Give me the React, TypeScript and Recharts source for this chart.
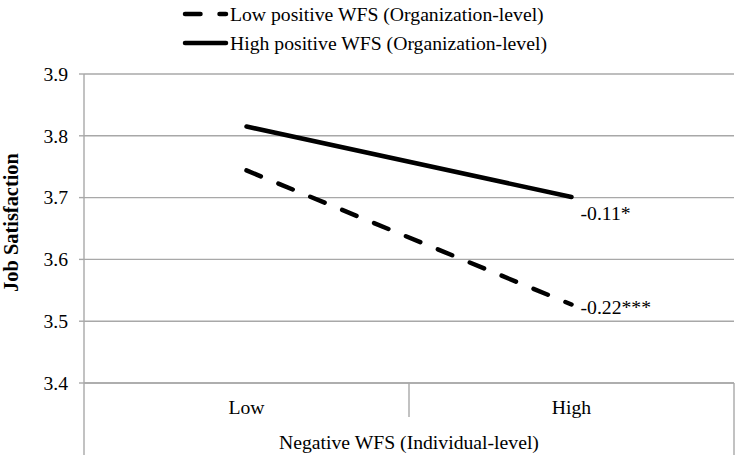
import React from "react";
import {
  LineChart,
  Line,
  XAxis,
  YAxis,
  CartesianGrid,
  Legend,
  LabelList,
  Label,
} from "recharts";

// values
const categories = ["Low", "High"];
const lowPositive = [3.744, 3.527];
const highPositive = [3.815, 3.701];
const seriesNames = [
  "Low positive WFS (Organization-level)",
  "High positive WFS (Organization-level)",
];
const slopeNotes = ["-0.22***", "-0.11*"];
const yTicks = [3.4, 3.5, 3.6, 3.7, 3.8, 3.9];
const xTitle = "Negative WFS (Individual-level)";
const yTitle = "Job Satisfaction";

const data = categories.map((cat, i) => ({
  cat,
  low: lowPositive[i],
  high: highPositive[i],
  lowNote: i === categories.length - 1 ? slopeNotes[0] : "",
  highNote: i === categories.length - 1 ? slopeNotes[1] : "",
}));

const W = 737;
const H = 455;
const LEFT = 84;
const RIGHT = 3;
const PLOT_W = W - LEFT - RIGHT;
const FONT = "Liberation Serif, Times New Roman, serif";
const FS = 19.7;
const GRID = "#a8a8a8";
const DASH = "15.5 19";

const textStyle = { fontFamily: FONT, fontSize: FS };

const CategoryTick = (props: any) => {
  const { x, y, payload, index } = props;
  const half = PLOT_W / categories.length / 2;
  const last = index === categories.length - 1;
  return (
    <g>
      <text x={x} y={y + 24} dy="0.35em" textAnchor="middle" fill="#000" style={textStyle}>
        {payload.value}
      </text>
      <line
        x1={x - half}
        x2={x - half}
        y1={y}
        y2={index === 0 ? H : y + 34}
        stroke={GRID}
        strokeWidth={1.4}
      />
      {last && (
        <line x1={x + half} x2={x + half} y1={y} y2={H} stroke={GRID} strokeWidth={1.4} />
      )}
    </g>
  );
};

const ValueTick = (props: any) => {
  const { x, y, payload } = props;
  return (
    <text x={x} y={y} dy="0.35em" textAnchor="end" fill="#000" style={textStyle}>
      {Number(payload.value).toFixed(1)}
    </text>
  );
};

const XTitle = (props: any) => {
  const { x, y, width } = props.viewBox;
  return (
    <text x={x + width / 2} y={y + 59} dy="0.35em" textAnchor="middle" fill="#000" style={textStyle}>
      {xTitle}
    </text>
  );
};

const YTitle = (props: any) => {
  const { y, height } = props.viewBox;
  const cx = 11;
  const cy = y + height / 2 - 6;
  return (
    <text
      x={cx}
      y={cy}
      dy="0.35em"
      textAnchor="middle"
      fill="#000"
      style={{ ...textStyle, fontSize: 20.4, fontWeight: "bold" }}
      transform={`rotate(-90 ${cx} ${cy})`}
    >
      {yTitle}
    </text>
  );
};

const noteContent = (dy: number) => (props: any) => {
  const { x, y, value } = props;
  if (!value) return <g />;
  return (
    <text x={x + 9} y={y + dy} dy="0.35em" fill="#000" style={textStyle}>
      {value}
    </text>
  );
};

const LegendBox = () => (
  <div style={{ position: "relative", width: W, height: 58, fontFamily: FONT }}>
    {seriesNames.map((name, i) => (
      <div
        key={name}
        style={{
          position: "absolute",
          left: 182,
          top: i * 29,
          height: 28,
          display: "flex",
          alignItems: "center",
          fontSize: FS,
          color: "#000",
          whiteSpace: "nowrap",
        }}
      >
        <svg width={48} height={8} style={{ display: "block" }}>
          <line
            x1={3}
            x2={44}
            y1={4}
            y2={4}
            stroke="#000"
            strokeWidth={4.5}
            strokeLinecap="round"
            strokeDasharray={i === 0 ? DASH : undefined}
          />
        </svg>
        <span>{name}</span>
      </div>
    ))}
  </div>
);

export default function App() {
  return (
    <div
      style={{
        position: "absolute",
        left: 0,
        top: 0,
        width: W,
        height: H,
        background: "#fff",
        fontFamily: FONT,
      }}
    >
      <LineChart
        width={W}
        height={H}
        data={data}
        margin={{ top: 74, right: RIGHT, bottom: 0, left: 0 }}
        style={{ fontFamily: FONT }}
      >
        <CartesianGrid vertical={false} stroke={GRID} strokeWidth={1.4} />
        <XAxis
          dataKey="cat"
          height={72}
          padding={{ left: PLOT_W / 4, right: PLOT_W / 4 }}
          tickSize={0}
          tickMargin={0}
          tickLine={false}
          axisLine={{ stroke: GRID, strokeWidth: 1.4 }}
          tick={<CategoryTick />}
        >
          <Label content={<XTitle />} />
        </XAxis>
        <YAxis
          width={LEFT}
          domain={[3.4, 3.9]}
          ticks={yTicks}
          tickSize={5}
          tickMargin={11}
          tickLine={{ stroke: GRID, strokeWidth: 1.4 }}
          axisLine={{ stroke: GRID, strokeWidth: 1.4 }}
          tick={<ValueTick />}
        >
          <Label content={<YTitle />} />
        </YAxis>
        <Legend
          layout="vertical"
          align="center"
          verticalAlign="middle"
          wrapperStyle={{ top: 0, left: 0, width: W }}
          content={<LegendBox />}
        />
        <Line
          type="linear"
          dataKey="low"
          name={seriesNames[0]}
          stroke="#000"
          strokeWidth={4.5}
          strokeLinecap="round"
          strokeDasharray={DASH}
          dot={false}
          activeDot={false}
          isAnimationActive={false}
        >
          <LabelList dataKey="lowNote" content={noteContent(3)} />
        </Line>
        <Line
          type="linear"
          dataKey="high"
          name={seriesNames[1]}
          stroke="#000"
          strokeWidth={4.5}
          strokeLinecap="round"
          dot={false}
          activeDot={false}
          isAnimationActive={false}
        >
          <LabelList dataKey="highNote" content={noteContent(16)} />
        </Line>
      </LineChart>
    </div>
  );
}
